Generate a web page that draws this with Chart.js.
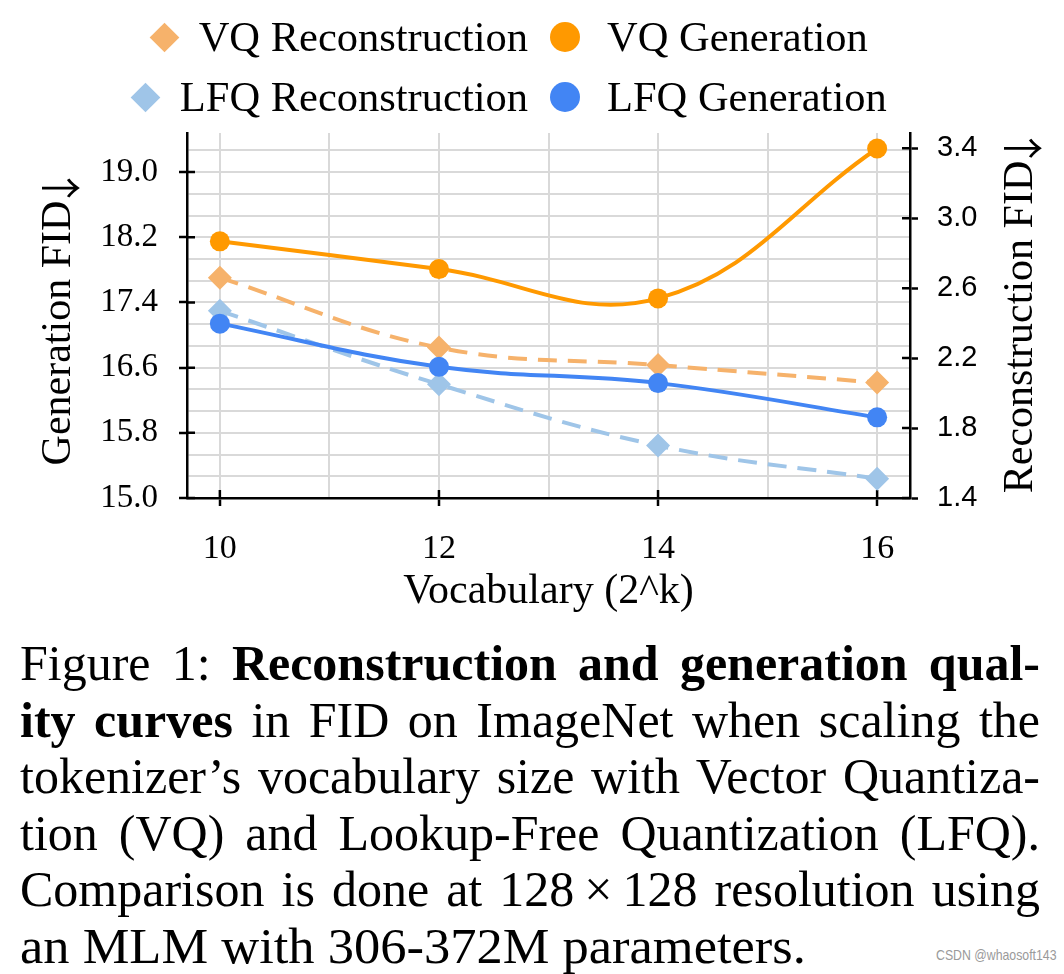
<!DOCTYPE html>
<html>
<head>
<meta charset="utf-8">
<script src="https://cdn.jsdelivr.net/npm/chart.js@4.4.1/dist/chart.umd.min.js"></script>
<style>
html,body{margin:0;padding:0;background:#fff;}
body{width:1064px;height:974px;position:relative;overflow:hidden;font-family:"Liberation Serif","Times New Roman",serif;color:#000;}
#wrap{position:absolute;left:0;top:0;width:1064px;height:620px;}
.legend-item{position:absolute;display:flex;align-items:center;font-size:42.5px;line-height:50px;height:50px;white-space:nowrap;}
.col1{right:536px;gap:24px;}
.col2{left:550px;gap:27px;}
.mk-d{width:21px;height:21px;transform:rotate(45deg);flex:none;}
.mk-c{width:30px;height:30px;border-radius:50%;flex:none;}
#caption{position:absolute;left:20px;top:635px;width:1020px;font-size:50px;line-height:56.6px;}
#caption div{text-align:justify;text-align-last:justify;}
#caption div.last{text-align:left;text-align-last:left;}
#caption div.last span{display:inline-block;transform:scaleX(1.05);transform-origin:0 50%;white-space:nowrap;}
#wm{position:absolute;left:936px;top:946px;white-space:nowrap;font-family:"Liberation Sans",Arial,sans-serif;font-size:15px;color:#9a9a9a;transform:scaleX(0.82);transform-origin:0 50%;}
</style>
</head>
<body>
<div id="wrap"><canvas id="c" width="1064" height="620"></canvas></div>
<div id="legend"></div>
<div id="caption">
<div>Figure 1: <b>Reconstruction and generation qual-</b></div>
<div><b>ity curves</b> in FID on ImageNet when scaling the</div>
<div>tokenizer’s vocabulary size with Vector Quantiza-</div>
<div>tion (VQ) and Lookup-Free Quantization (LFQ).</div>
<div>Comparison is done at 128&thinsp;×&thinsp;128 resolution using</div>
<div class="last"><span>an MLM with 306-372M parameters.</span></div>
</div>
<div id="wm">CSDN @whaosoft143</div>
<script>
// ---- data ----
const categories = [10, 12, 14, 16];
const vqGeneration = [18.15, 17.81, 17.45, 19.29];
const lfqGeneration = [17.14, 16.61, 16.41, 15.99];
const vqReconstruction = [2.66, 2.26, 2.16, 2.06];
const lfqReconstruction = [2.47, 2.05, 1.70, 1.51];
const xTickLabels = [10, 12, 14, 16];
const genTickLabels = [15.0, 15.8, 16.6, 17.4, 18.2, 19.0];
const recTickLabels = [1.4, 1.8, 2.2, 2.6, 3.0, 3.4];
const seriesNames = ['VQ Reconstruction', 'VQ Generation', 'LFQ Reconstruction', 'LFQ Generation'];
const xTitle = 'Vocabulary (2^k)';
const genTitle = 'Generation FID';
const recTitle = 'Reconstruction FID';
const titleArrow = '↓';

// ---- styles ----
const C_VQ_GEN = '#ff9900', C_VQ_REC = '#f6b26b', C_LFQ_GEN = '#4285f4', C_LFQ_REC = '#9fc5e8';
const GRID = '#d9d9d9';
const SERIF = '"Liberation Serif", "Times New Roman", serif';
const SANS = '"Liberation Sans", Arial, sans-serif';
const ARROW_FONT = '"Noto Sans CJK SC", "Noto Sans", "DejaVu Sans", sans-serif';

// ---- legend (HTML) ----
const legendDefs = [
  {name: seriesNames[0], color: C_VQ_REC, shape: 'd', cls: 'col1', top: 12},
  {name: seriesNames[1], color: C_VQ_GEN, shape: 'c', cls: 'col2', top: 12},
  {name: seriesNames[2], color: C_LFQ_REC, shape: 'd', cls: 'col1', top: 72},
  {name: seriesNames[3], color: C_LFQ_GEN, shape: 'c', cls: 'col2', top: 72}
];
const lg = document.getElementById('legend');
legendDefs.forEach(d => {
  const it = document.createElement('div');
  it.className = 'legend-item ' + d.cls;
  it.style.top = d.top + 'px';
  const m = document.createElement('div');
  m.className = d.shape === 'd' ? 'mk-d' : 'mk-c';
  m.style.background = d.color;
  const t = document.createElement('span');
  t.textContent = d.name;
  it.appendChild(m); it.appendChild(t);
  lg.appendChild(it);
});

const r6 = v => Math.round(v * 1e6) / 1e6;
const pts = arr => categories.map((x, i) => ({x: x, y: arr[i]}));

function genGridValues() {
  const out = [];
  const step = (genTickLabels[1] - genTickLabels[0]) / 3;
  for (let i = 0; i < genTickLabels.length - 1; i++) {
    for (let k = 0; k < 3; k++) out.push(r6(genTickLabels[i] + k * step));
  }
  const last = genTickLabels[genTickLabels.length - 1];
  out.push(last);
  out.push(r6(last + step));
  return out;
}
function xGridValues() {
  const out = [];
  for (let i = 0; i < xTickLabels.length - 1; i++) {
    out.push(xTickLabels[i]);
    out.push((xTickLabels[i] + xTickLabels[i + 1]) / 2);
  }
  out.push(xTickLabels[xTickLabels.length - 1]);
  return out;
}
const isLabelled = (arr, v) => arr.some(a => Math.abs(a - v) < 1e-6);

// rotated (bottom-to-top) axis title with a full-height arrow
function drawRotTitle(ctx, text, cx, cy, baseOff) {
  ctx.save();
  ctx.translate(cx, cy);
  ctx.rotate(-Math.PI / 2);
  ctx.fillStyle = '#000';
  ctx.textAlign = 'left';
  ctx.textBaseline = 'alphabetic';
  ctx.font = '42px ' + SERIF;
  const w1 = ctx.measureText(text).width;
  ctx.font = '42px ' + ARROW_FONT;
  let m = ctx.measureText(titleArrow);
  const h0 = m.actualBoundingBoxAscent + m.actualBoundingBoxDescent;
  const fs = 42 * 38 / (h0 || 38);
  ctx.font = fs + 'px ' + ARROW_FONT;
  m = ctx.measureText(titleArrow);
  const inkW = m.actualBoundingBoxLeft + m.actualBoundingBoxRight;
  const gap = 2;
  const total = w1 + gap + inkW;
  const x0 = -total / 2;
  ctx.font = '42px ' + SERIF;
  ctx.fillText(text, x0, baseOff);
  ctx.font = fs + 'px ' + ARROW_FONT;
  const ax = x0 + w1 + gap + m.actualBoundingBoxLeft;
  const ay = baseOff - 28 + m.actualBoundingBoxAscent;
  ctx.fillText(titleArrow, ax, ay);
  ctx.restore();
}

const decor = {
  id: 'decor',
  beforeDatasetsDraw(chart) {
    const ctx = chart.ctx, a = chart.chartArea;
    const L = chart.scales.yGen, R = chart.scales.yRec, X = chart.scales.x;
    ctx.save();
    ctx.strokeStyle = '#000'; ctx.lineWidth = 2.5;
    ctx.beginPath();
    genTickLabels.forEach(v => { const y = L.getPixelForValue(v); ctx.moveTo(a.left, y); ctx.lineTo(a.left + 8, y); });
    recTickLabels.forEach(v => { const y = R.getPixelForValue(v); ctx.moveTo(a.right, y); ctx.lineTo(a.right - 8, y); });
    xTickLabels.forEach(v => { const x = X.getPixelForValue(v); ctx.moveTo(x, a.bottom); ctx.lineTo(x, a.bottom - 8); });
    ctx.stroke();
    ctx.restore();
  },
  afterDraw(chart) {
    const ctx = chart.ctx;
    drawRotTitle(ctx, genTitle, 57, 322, 13);
    drawRotTitle(ctx, recTitle, 1020, 316, 12);
  }
};

const tickColorFn = c => (c.tick && c.tick.label !== '' && c.tick.label !== undefined) ? '#000' : 'rgba(0,0,0,0)';

new Chart(document.getElementById('c'), {
  type: 'line',
  data: {
    datasets: [
      {label: seriesNames[1], data: pts(vqGeneration), yAxisID: 'yGen', borderColor: C_VQ_GEN, backgroundColor: C_VQ_GEN,
       borderWidth: 4, pointStyle: 'circle', pointRadius: 10, pointBorderWidth: 0, tension: 0.4, order: 0},
      {label: seriesNames[3], data: pts(lfqGeneration), yAxisID: 'yGen', borderColor: C_LFQ_GEN, backgroundColor: C_LFQ_GEN,
       borderWidth: 4, pointStyle: 'circle', pointRadius: 10, pointBorderWidth: 0, tension: 0.4, order: 1},
      {label: seriesNames[0], data: pts(vqReconstruction), yAxisID: 'yRec', borderColor: C_VQ_REC, backgroundColor: C_VQ_REC,
       borderWidth: 4, borderDash: [19, 11], pointStyle: 'rectRot', pointRadius: 12, pointBorderWidth: 0, tension: 0.4, order: 2},
      {label: seriesNames[2], data: pts(lfqReconstruction), yAxisID: 'yRec', borderColor: C_LFQ_REC, backgroundColor: C_LFQ_REC,
       borderWidth: 4, borderDash: [19, 11], pointStyle: 'rectRot', pointRadius: 12, pointBorderWidth: 0, tension: 0.4, order: 3}
    ]
  },
  options: {
    responsive: false,
    animation: false,
    devicePixelRatio: 1,
    layout: {padding: {top: 133, left: 0, right: 0, bottom: 0}},
    plugins: {legend: {display: false}, tooltip: {enabled: false}},
    scales: {
      x: {
        type: 'linear', position: 'bottom', min: 9.7, max: 16.3,
        afterBuildTicks: s => { s.ticks = xGridValues().map(v => ({value: v})); },
        afterFit: s => { s.height = 122; },
        ticks: {autoSkip: false, maxRotation: 0, padding: 23, color: '#000',
          font: {family: SERIF, size: 34},
          callback: v => isLabelled(xTickLabels, v) ? String(v) : ''},
        grid: {color: GRID, lineWidth: 2, tickLength: 8, tickWidth: 2.5, tickColor: tickColorFn},
        border: {color: '#000', width: 2.5},
        title: {display: true, text: xTitle, color: '#000', font: {family: SERIF, size: 42}, padding: {top: 0, bottom: 3}}
      },
      yGen: {
        type: 'linear', position: 'left', min: 15, max: 19.48,
        afterBuildTicks: s => { s.ticks = genGridValues().map(v => ({value: v})); },
        afterFit: s => { s.width = 187; },
        ticks: {autoSkip: false, padding: 21, color: '#000',
          font: {family: SERIF, size: 33},
          callback: v => isLabelled(genTickLabels, v) ? v.toFixed(1) : ''},
        grid: {color: GRID, lineWidth: 2, tickLength: 8, tickWidth: 2.5, tickColor: tickColorFn},
        border: {color: '#000', width: 2.5},
        title: {display: false}
      },
      yRec: {
        type: 'linear', position: 'right', min: 1.4, max: 3.487,
        afterBuildTicks: s => { s.ticks = recTickLabels.map(v => ({value: v})); },
        afterFit: s => { s.width = 154; },
        ticks: {autoSkip: false, padding: 19, color: '#000',
          font: {family: SANS, size: 29},
          callback: v => v.toFixed(1)},
        grid: {drawOnChartArea: false, tickLength: 8, tickWidth: 2.5, tickColor: '#000'},
        border: {color: '#000', width: 2.5},
        title: {display: false}
      }
    }
  },
  plugins: [decor]
});
</script>
</body>
</html>
